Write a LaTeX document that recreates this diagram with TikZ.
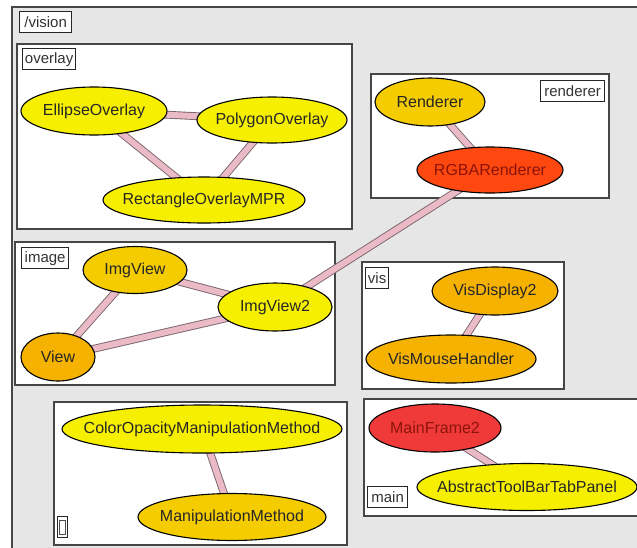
\documentclass[tikz,border=0pt]{standalone}
\usepackage{fontspec}
\setmainfont{Liberation Sans}
\usetikzlibrary{shapes.geometric}
\pgfdeclarelayer{boxes}
\pgfdeclarelayer{links}
\pgfsetlayers{boxes,links,main}

\definecolor{panelgray}{RGB}{230,230,230}
\definecolor{frameline}{RGB}{70,70,70}
\definecolor{cyellow}{RGB}{246,240,0}
\definecolor{cgold}{RGB}{244,204,0}
\definecolor{corange}{RGB}{245,178,0}
\definecolor{cred}{RGB}{255,72,16}
\definecolor{cscarlet}{RGB}{240,58,58}
\definecolor{linkpink}{RGB}{234,186,198}
\definecolor{linkedge}{RGB}{120,100,110}
\definecolor{redtext}{RGB}{140,20,10}

\tikzset{
  cls/.style={ellipse, draw=black, line width=1.1pt, inner xsep=-40pt, inner ysep=-12pt,
              font=\fontsize{16}{18}\selectfont, text=black!85},
  pkg/.style={draw=frameline, line width=1.4pt, fill=white},
  pkglabel/.style={draw=black!85, line width=1.3pt, fill=white, inner sep=1pt,
                   minimum height=21pt, font=\fontsize{15}{17}\selectfont,
                   text=black!80, anchor=north west},
  dep/.style={draw=linkedge, line width=0.9pt, double=linkpink, double distance=6pt}
}

\begin{document}
\begin{tikzpicture}[x=1pt,y=-1pt]
\useasboundingbox (0,0) rectangle (637,547);

% package frames
\begin{pgfonlayer}{boxes}
  \fill[white] (0,0) rectangle (637,547);
  \draw[frameline, line width=1.4pt, fill=panelgray] (12,7) rectangle (645,555);
  \draw[pkg] (17,44) rectangle (352,229);   % overlay
  \draw[pkg] (371,74) rectangle (609,198);  % renderer
  \draw[pkg] (15,242) rectangle (335,385);  % image
  \draw[pkg] (362,262) rectangle (564,389); % vis
  \draw[pkg] (54,402) rectangle (347,545);  % gui
  \draw[pkg] (364,399) rectangle (645,516); % main
\end{pgfonlayer}

% package labels
\node[pkglabel, minimum width=52pt] (lvision)   at (19,11)  {/vision};
\node[pkglabel, minimum width=53pt] (loverlay)  at (22,48)  {overlay};
\node[pkglabel, minimum width=64pt] (lrenderer) at (540,80) {renderer};
\node[pkglabel, minimum width=47pt] (limage)    at (21,247) {image};
\node[pkglabel, minimum width=23pt] (lvis)      at (365,267) {vis};
\node[pkglabel, minimum width=40pt] (lmain)     at (367,486) {main};
\node[draw=black!85, line width=1.3pt, fill=white, minimum width=10pt,
      minimum height=21pt, inner sep=0pt, anchor=north west] (lgui) at (57,516) {};
\draw[black!70, line width=0.8pt] ([xshift=2.5pt,yshift=-4pt]lgui.north west)
      rectangle ([xshift=-2.5pt,yshift=4pt]lgui.south east);

% classes
\node[cls, fill=cyellow, minimum width=146pt, minimum height=48pt] (ellipse) at (94,111) {EllipseOverlay};
\node[cls, fill=cyellow, minimum width=150pt, minimum height=46pt] (polygon) at (272,120) {PolygonOverlay};
\node[cls, fill=cyellow, minimum width=202pt, minimum height=46pt] (rectmpr) at (204,200) {RectangleOverlayMPR};

\node[cls, fill=cgold, minimum width=110pt, minimum height=48pt] (renderer) at (430,102) {Renderer};
\node[cls, fill=cred, text=redtext, minimum width=146pt, minimum height=46pt] (rgba) at (490,170) {RGBARenderer};

\node[cls, fill=cgold, minimum width=104pt, minimum height=47pt] (imgview) at (135,270) {ImgView};
\node[cls, fill=cyellow, minimum width=114pt, minimum height=48pt] (imgview2) at (275,307) {ImgView2};
\node[cls, fill=corange, minimum width=74pt, minimum height=48pt] (view) at (58,357) {View};

\node[cls, fill=corange, minimum width=126pt, minimum height=48pt] (visdisp) at (495,291) {VisDisplay2};
\node[cls, fill=corange, minimum width=170pt, minimum height=48pt] (vismouse) at (451,359) {VisMouseHandler};

\node[cls, fill=cyellow, minimum width=280pt, minimum height=48pt] (colorop) at (202,429) {ColorOpacityManipulationMethod};
\node[cls, fill=cgold, minimum width=188pt, minimum height=47pt] (manip) at (232,517) {ManipulationMethod};

\node[cls, fill=cscarlet, text=redtext, minimum width=132pt, minimum height=48pt] (mainframe) at (435,428) {MainFrame2};
\node[cls, fill=cyellow, minimum width=220pt, minimum height=47pt] (toolbar) at (527,487) {AbstractToolBarTabPanel};

% dependencies
\begin{pgfonlayer}{links}
  \draw[dep] (ellipse.center) -- (polygon.center);
  \draw[dep] (ellipse.center) -- (rectmpr.center);
  \draw[dep] (polygon.center) -- (rectmpr.center);
  \draw[dep] (renderer.center) -- (rgba.center);
  \draw[dep] (imgview.center) -- (view.center);
  \draw[dep] (imgview.center) -- (imgview2.center);
  \draw[dep] (view.center) -- (imgview2.center);
  \draw[dep] (imgview2.center) -- (rgba.center);
  \draw[dep] (visdisp.center) -- (vismouse.center);
  \draw[dep] (colorop.center) -- (manip.center);
  \draw[dep] (mainframe.center) -- (toolbar.center);
\end{pgfonlayer}
\end{tikzpicture}
\end{document}
